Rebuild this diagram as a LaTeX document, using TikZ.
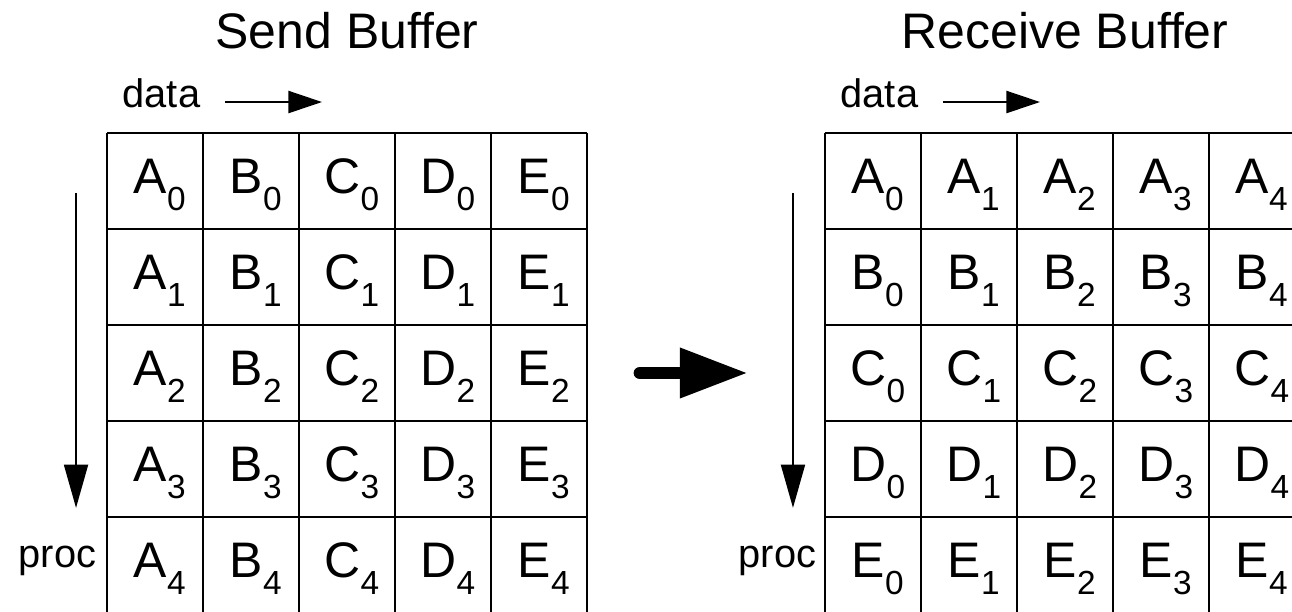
\documentclass[tikz,border=0pt]{standalone}
\usepackage{fontspec}
\setmainfont{Liberation Sans}
\usetikzlibrary{arrows.meta}

\newcommand{\elem}[2]{#1\raisebox{-0.34em}{\fontsize{9.9pt}{10pt}\selectfont #2}}

\tikzset{
  bufftitle/.style={anchor=base, inner sep=0pt, font=\fontsize{14.8pt}{16pt}\selectfont},
  axislabel/.style={inner sep=0pt, font=\fontsize{11.8pt}{13pt}\selectfont},
  cellval/.style={anchor=base, inner sep=0pt, font=\fontsize{14.8pt}{16pt}\selectfont},
  gridline/.style={line width=0.65pt},
  dataarrow/.style={line width=0.6pt, -{Triangle[length=0.35cm,width=0.23cm]}},
  procarrow/.style={line width=0.55pt, -{Triangle[length=0.45cm,width=0.25cm]}},
  bigarrow/.style={line width=3.8pt, line cap=round, -{Triangle[length=0.71cm,width=0.49cm]}}
}

\begin{document}
\begin{tikzpicture}
\useasboundingbox (0,0) rectangle (13.458,-6.365);

% send buffer
\node[bufftitle] (sendtitle) at (3.615,-0.5) {Send Buffer};
\node[axislabel, anchor=base west] (senddata) at (1.271,-1.115) {data};
\node[axislabel, anchor=base east] (sendproc) at (1.01,-5.906) {proc};
\coordinate (sdata1) at (2.344,-1.0625);
\coordinate (sdata2) at (3.354,-1.0625);
\coordinate (sproc1) at (0.792,-2.01);
\coordinate (sproc2) at (0.792,-5.29);
\draw[dataarrow] (sdata1) -- (sdata2);
\draw[procarrow] (sproc1) -- (sproc2);
\begin{scope}[shift={(1.115,-1.385)}]
\draw[gridline] (0,0) grid (5,-5);
\foreach \L [count=\c from 0] in {A,B,C,D,E}
  \foreach \r in {0,...,4}
    \node[cellval] (s-\r-\c) at (\c+0.55,-\r-0.635) {\elem{\L}{\r}};
\end{scope}

% transfer
\coordinate (move1) at (6.667,-3.885);
\coordinate (move2) at (7.792,-3.885);
\draw[bigarrow] (move1) -- (move2);

% receive buffer
\node[bufftitle] (recvtitle) at (11.094,-0.5) {Receive Buffer};
\node[axislabel, anchor=base west] (recvdata) at (8.75,-1.115) {data};
\node[axislabel, anchor=base east] (recvproc) at (8.51,-5.906) {proc};
\coordinate (rdata1) at (9.823,-1.0625);
\coordinate (rdata2) at (10.833,-1.0625);
\coordinate (rproc1) at (8.26,-2.01);
\coordinate (rproc2) at (8.26,-5.29);
\draw[dataarrow] (rdata1) -- (rdata2);
\draw[procarrow] (rproc1) -- (rproc2);
\begin{scope}[shift={(8.594,-1.385)}]
\draw[gridline] (0,0) grid (5,-5);
\foreach \L [count=\r from 0] in {A,B,C,D,E}
  \foreach \c in {0,...,4}
    \node[cellval] (r-\r-\c) at (\c+0.55,-\r-0.635) {\elem{\L}{\c}};
\end{scope}
\end{tikzpicture}
\end{document}
